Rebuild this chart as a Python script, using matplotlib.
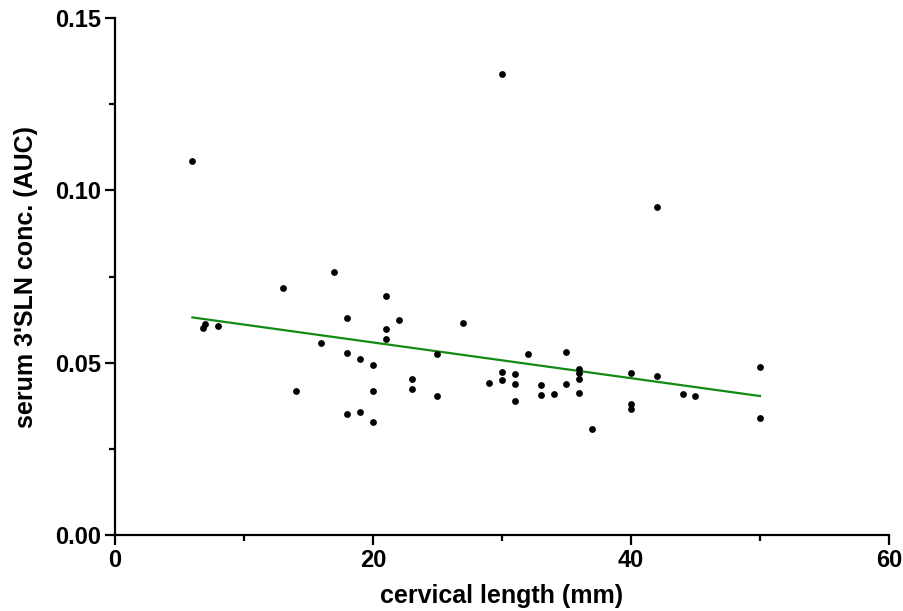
import numpy as np
import matplotlib
matplotlib.use("Agg")
import matplotlib.pyplot as plt
from matplotlib.ticker import MultipleLocator

cervical_length = [6, 6.8, 7, 8, 13, 14, 16, 17, 18, 18, 18, 19, 19, 20, 20, 20,
                   21, 21, 21, 22, 23, 23, 25, 25, 27, 29, 30, 30, 30, 31, 31, 31,
                   32, 33, 33, 34, 35, 35, 36, 36, 36, 36, 37, 40, 40, 40, 42, 42,
                   44, 45, 50, 50]
serum_conc = [0.1086, 0.0600, 0.0613, 0.0607, 0.0716, 0.0417, 0.0556, 0.0764,
              0.0631, 0.0527, 0.0350, 0.0510, 0.0358, 0.0492, 0.0417, 0.0327,
              0.0693, 0.0597, 0.0569, 0.0624, 0.0454, 0.0423, 0.0524, 0.0402,
              0.0614, 0.0441, 0.1338, 0.0474, 0.0450, 0.0468, 0.0437, 0.0388,
              0.0525, 0.0435, 0.0406, 0.0410, 0.0530, 0.0438, 0.0483, 0.0470,
              0.0452, 0.0412, 0.0308, 0.0469, 0.0379, 0.0365, 0.0952, 0.0461,
              0.0408, 0.0403, 0.0486, 0.0340]

x_ticks = [0, 20, 40, 60]
y_ticks = [0.00, 0.05, 0.10, 0.15]
y_tick_labels = ["0.00", "0.05", "0.10", "0.15"]

plt.rcParams['font.family'] = ['Liberation Sans', 'DejaVu Sans']

fig = plt.figure(figsize=(9.04, 6.11), dpi=100)
ax = fig.add_axes([0.1272, 0.1244, 0.8562, 0.8461])

xs = np.array(cervical_length, dtype=float)
ys = np.array(serum_conc, dtype=float)
slope, intercept = np.polyfit(xs, ys, 1)
xl = np.array([xs.min(), xs.max()])
ax.plot(xl, slope * xl + intercept, color='#138a13', lw=1.6, zorder=2)
ax.scatter(xs, ys, s=24, color='black', zorder=3, linewidths=0)

ax.set_xlim(0, 60)
ax.set_ylim(0, 0.15)
ax.set_xticks(x_ticks)
ax.set_yticks(y_ticks)
ax.set_yticklabels(y_tick_labels)
ax.xaxis.set_minor_locator(MultipleLocator(10))
ax.yaxis.set_minor_locator(MultipleLocator(0.025))

for s in ['top', 'right']:
    ax.spines[s].set_visible(False)
for s in ['left', 'bottom']:
    ax.spines[s].set_linewidth(1.6)
    ax.spines[s].set_color('black')

ax.tick_params(axis='both', which='major', length=7, width=1.6, direction='out',
               labelsize=17, pad=3)
ax.tick_params(axis='both', which='minor', length=4, width=1.6, direction='out')
for lab in ax.get_xticklabels() + ax.get_yticklabels():
    lab.set_fontweight('bold')

ax.set_xlabel("cervical length (mm)", fontsize=18, fontweight='bold', labelpad=9)
ax.set_ylabel("serum 3'SLN conc. (AUC)", fontsize=18, fontweight='bold', labelpad=12)

fig.savefig("out.png", dpi=100)
